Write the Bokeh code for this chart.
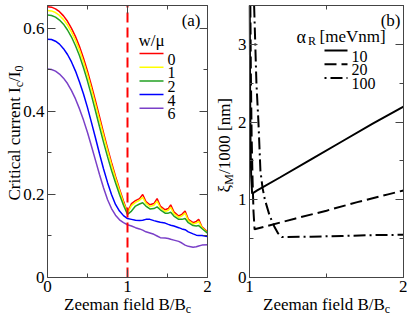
import math
from bokeh.plotting import figure
from bokeh.models import Range1d, LinearAxis, FixedTicker, Label
from bokeh.layouts import row
from bokeh.embed import file_html
from bokeh.resources import INLINE

# ---------------- data: panel (a) ----------------
field_a = [0.0, 0.05, 0.1, 0.15, 0.2, 0.25, 0.3, 0.35, 0.4, 0.45, 0.5, 0.55, 0.6, 0.65,
           0.7, 0.75, 0.8, 0.85, 0.9, 0.95, 1.0,
           1.05, 1.1, 1.15, 1.19, 1.23, 1.28, 1.33, 1.37, 1.41, 1.47, 1.51, 1.54, 1.58,
           1.64, 1.68, 1.72, 1.76, 1.82, 1.86, 1.89, 1.93, 2.0]
ic_w0 = [0.652, 0.651, 0.647, 0.640, 0.630, 0.617, 0.600, 0.580, 0.556, 0.528, 0.497, 0.462,
         0.425, 0.387, 0.349, 0.312, 0.277, 0.244, 0.213, 0.184, 0.157,
         0.178, 0.185, 0.19, 0.2, 0.183, 0.175, 0.178, 0.19, 0.172, 0.163, 0.166, 0.175, 0.158,
         0.148, 0.152, 0.16, 0.14, 0.132, 0.135, 0.14, 0.122, 0.11]
ic_w1 = [0.643, 0.642, 0.638, 0.631, 0.621, 0.608, 0.591, 0.571, 0.547, 0.519, 0.488, 0.453,
         0.417, 0.379, 0.342, 0.306, 0.271, 0.239, 0.209, 0.180, 0.155,
         0.173, 0.181, 0.186, 0.193, 0.179, 0.171, 0.174, 0.184, 0.168, 0.159, 0.162, 0.169, 0.154,
         0.145, 0.148, 0.155, 0.137, 0.129, 0.131, 0.135, 0.12, 0.108]
ic_w2 = [0.632, 0.631, 0.627, 0.620, 0.610, 0.596, 0.579, 0.558, 0.534, 0.505, 0.473, 0.438,
         0.401, 0.363, 0.326, 0.291, 0.258, 0.228, 0.200, 0.174, 0.152,
         0.16, 0.172, 0.177, 0.18, 0.172, 0.165, 0.166, 0.17, 0.163, 0.155, 0.155, 0.157, 0.148,
         0.14, 0.14, 0.142, 0.132, 0.125, 0.124, 0.125, 0.118, 0.107]
ic_w4 = [0.574, 0.573, 0.569, 0.562, 0.551, 0.537, 0.519, 0.497, 0.471, 0.442, 0.409, 0.373,
         0.336, 0.298, 0.262, 0.229, 0.200, 0.176, 0.160, 0.149, 0.142,
         0.14, 0.138, 0.137, 0.138, 0.14, 0.14, 0.137, 0.135, 0.133, 0.131, 0.128, 0.126, 0.124,
         0.12, 0.117, 0.115, 0.11, 0.105, 0.102, 0.101, 0.101, 0.099]
ic_w6 = [0.502, 0.501, 0.497, 0.490, 0.480, 0.467, 0.450, 0.430, 0.406, 0.379, 0.349, 0.316,
         0.282, 0.248, 0.216, 0.188, 0.166, 0.150, 0.139, 0.132, 0.127,
         0.124, 0.12, 0.117, 0.114, 0.11, 0.107, 0.104, 0.1, 0.096, 0.095, 0.094, 0.092, 0.09,
         0.087, 0.083, 0.078, 0.075, 0.073, 0.074, 0.076, 0.078, 0.079]
w_labels = ["0", "1", "2", "4", "6"]
w_colors = ["#ff0000", "#ffff00", "#22a022", "#0000ff", "#7a40c8"]
critical_field = 1.0

xa_lim = (0.0, 2.0)
ya_lim = (0.0, 0.655)
xa_ticks = [0, 1, 2]
xa_minor = [0.5, 1.5]
xa_labels = ["0", "1", "2"]
ya_ticks = [0, 0.2, 0.4, 0.6]
ya_minor = [0.1, 0.3, 0.5]
ya_labels = ["0", "0.2", "0.4", "0.6"]

# ---------------- data: panel (b) ----------------
field_10 = [1.0018, 1.004, 1.007, 1.011, 1.017, 1.05, 1.2, 1.4, 1.6, 1.8, 2.0]
xi_10 = [3.5, 2.4, 1.7, 1.3, 1.08, 1.12, 1.29, 1.52, 1.75, 1.98, 2.2]
field_20 = [1.0055, 1.009, 1.014, 1.02, 1.026, 1.033, 1.1, 1.3, 1.5, 1.7, 1.9, 2.0]
xi_20 = [3.5, 2.6, 1.8, 1.25, 0.85, 0.62, 0.655, 0.76, 0.86, 0.97, 1.07, 1.12]
field_100 = [1.03, 1.045, 1.058, 1.071, 1.085, 1.1, 1.13, 1.16, 1.185, 1.21,
             1.4, 1.6, 1.8, 2.0]
xi_100 = [3.5, 2.5, 2.0, 1.37, 1.15, 1.0, 0.8, 0.66, 0.57, 0.52,
          0.525, 0.535, 0.545, 0.55]
alpha_labels = ["10", "20", "100"]
alpha_dashes = ["solid", "12 5", "12 4 2 4"]
alpha_dash_offsets = [0, 0, 16]

xb_lim = (1.0, 2.0)
yb_lim = (0.0, 3.5)
xb_ticks = [1, 2]
xb_minor = [1.5]
xb_labels = ["1", "2"]
yb_ticks = [0, 1, 2, 3]
yb_minor = [0.5, 1.5, 2.5]
yb_labels = ["0", "1", "2", "3"]

# ---------------- layout / styling ----------------
FONT = "Liberation Serif"
FRAME = "#444444"
H = 315
TOP, BOTTOM = 5, 277          # frame top / bottom (px from top)
WA, WB = 212, 195             # canvas widths
A_LEFT, A_RIGHT = 47, 207     # panel (a) frame, px in its canvas
B_LEFT, B_RIGHT = 37, 191     # panel (b) frame, px in its canvas
LEG_STEP = 13.7


def ranges(width, xlim, yl, left, right):
    sx = (right - left) / (xlim[1] - xlim[0])
    sy = (BOTTOM - TOP) / (yl[1] - yl[0])
    xr = Range1d(xlim[0] - left / sx, xlim[1] + (width - right) / sx)
    yr = Range1d(yl[0] - (H - BOTTOM) / sy, yl[1] + TOP / sy)
    return xr, yr


def to_data(p, width, px, py):
    xr, yr = p.x_range, p.y_range
    return (xr.start + px * (xr.end - xr.start) / width,
            yr.end - py * (yr.end - yr.start) / H)


def style(ax):
    ax.axis_line_color = FRAME
    ax.major_tick_line_color = FRAME
    ax.minor_tick_line_color = FRAME
    ax.major_tick_in = 8
    ax.major_tick_out = 0
    ax.minor_tick_in = 4
    ax.minor_tick_out = 0
    ax.major_label_text_font = FONT
    ax.major_label_text_font_size = "17px"
    ax.major_label_text_color = "black"
    ax.major_label_standoff = 3


def add_axes(p, xlim, yl, xt, xm, xl, yt, ym, ylab):
    b = LinearAxis(fixed_location=yl[0], bounds=xlim,
                   ticker=FixedTicker(ticks=xt, minor_ticks=xm),
                   major_label_overrides=dict(zip(xt, xl)))
    l = LinearAxis(fixed_location=xlim[0], bounds=yl,
                   ticker=FixedTicker(ticks=yt, minor_ticks=ym),
                   major_label_overrides=dict(zip(yt, ylab)))
    style(b)
    style(l)
    p.add_layout(b, "below")
    p.add_layout(l, "left")
    # mirrored tick-only axes on top and right
    for loc, fl, bnd, majors, minors in [("above", yl[1], xlim, xt, xm),
                                         ("right", xlim[1], yl, yt, ym)]:
        for tks, ln in [(majors, 8), (minors, 4)]:
            ax = LinearAxis(fixed_location=fl, bounds=bnd,
                            ticker=FixedTicker(ticks=[], minor_ticks=tks))
            style(ax)
            ax.minor_tick_in = ln
            p.add_layout(ax, loc)


def lab(p, width, text, px, py, size="17px", angle=0.0, align="left"):
    x, y = to_data(p, width, px, py)
    p.add_layout(Label(x=x, y=y, text=text, angle=angle,
                       text_font=FONT, text_font_size=size, text_align=align,
                       text_baseline="alphabetic", text_color="black"))


def make_fig(width, xlim, yl, left, right):
    xr, yr = ranges(width, xlim, yl, left, right)
    p = figure(width=width, height=H, x_range=xr, y_range=yr, output_backend="svg",
               toolbar_location=None, x_axis_location=None, y_axis_location=None,
               min_border=0)
    p.outline_line_color = None
    return p


rot = math.pi / 2

# ---------------- panel (a) ----------------
pa = make_fig(WA, xa_lim, ya_lim, A_LEFT, A_RIGHT)
add_axes(pa, xa_lim, ya_lim, xa_ticks, xa_minor, xa_labels, ya_ticks, ya_minor, ya_labels)

for i, (vals, col, name) in enumerate(zip([ic_w0, ic_w1, ic_w2, ic_w4, ic_w6],
                                          w_colors, w_labels)):
    pa.line(field_a, vals, line_color=col, line_width=1.5)
    # legend entry
    yrow = 53 + i * LEG_STEP
    (lx0, ly), (lx1, _) = to_data(pa, WA, 139, yrow), to_data(pa, WA, 163, yrow)
    pa.line([lx0, lx1], [ly, ly], line_color=col, line_width=1.5)
    lab(pa, WA, name, 167, yrow + 5.5, size="16px")

pa.segment(x0=[critical_field], y0=[ya_lim[0]], x1=[critical_field], y1=[ya_lim[1]],
           line_color="#ff0000", line_width=2, line_dash="10 5")

lab(pa, WA, "w/μ", 138, 40)
lab(pa, WA, "(a)", 200, 20, align="right")
lab(pa, WA, "Zeeman field B/B", 63.5, 304)
lab(pa, WA, "c", 185.3, 308, size="12px")
lab(pa, WA, "Critical current I", 14, 200, angle=rot)
lab(pa, WA, "c", 18, 86.7, size="12px", angle=rot)
lab(pa, WA, "/I", 14, 81.4, angle=rot)
lab(pa, WA, "0", 18, 71, size="12px", angle=rot)

# ---------------- panel (b) ----------------
pb = make_fig(WB, xb_lim, yb_lim, B_LEFT, B_RIGHT)
add_axes(pb, xb_lim, yb_lim, xb_ticks, xb_minor, xb_labels, yb_ticks, yb_minor, yb_labels)

for i, (xs, ys, dash, off, name) in enumerate(zip([field_10, field_20, field_100],
                                                  [xi_10, xi_20, xi_100],
                                                  alpha_dashes, alpha_dash_offsets,
                                                  alpha_labels)):
    pb.line(xs, ys, line_color="black", line_width=2, line_dash=dash)
    yrow = 50 + i * LEG_STEP
    (lx0, ly), (lx1, _) = to_data(pb, WB, 112, yrow), to_data(pb, WB, 135, yrow)
    pb.line([lx0, lx1], [ly, ly], line_color="black", line_width=2, line_dash=dash,
            line_dash_offset=off)
    lab(pb, WB, name, 139, yrow + 5.5, size="16px")

lab(pb, WB, "(b)", 188, 20, align="right")
lab(pb, WB, "α", 84, 36, size="18px")
lab(pb, WB, "R", 95.5, 40, size="12px")
lab(pb, WB, "[meVnm]", 107, 36)
lab(pb, WB, "Zeeman field B/B", 50.5, 304)
lab(pb, WB, "c", 172.3, 308, size="12px")
lab(pb, WB, "ξ", 12, 192, angle=rot)
lab(pb, WB, "M", 16, 184.2, size="12px", angle=rot)
lab(pb, WB, "/1000 [nm]", 12, 173.5, angle=rot)

for p in (pa, pb):
    for g in p.grid:
        g.visible = False

layout = row(pa, pb)
open("out.html", "w").write(file_html(layout, INLINE))
